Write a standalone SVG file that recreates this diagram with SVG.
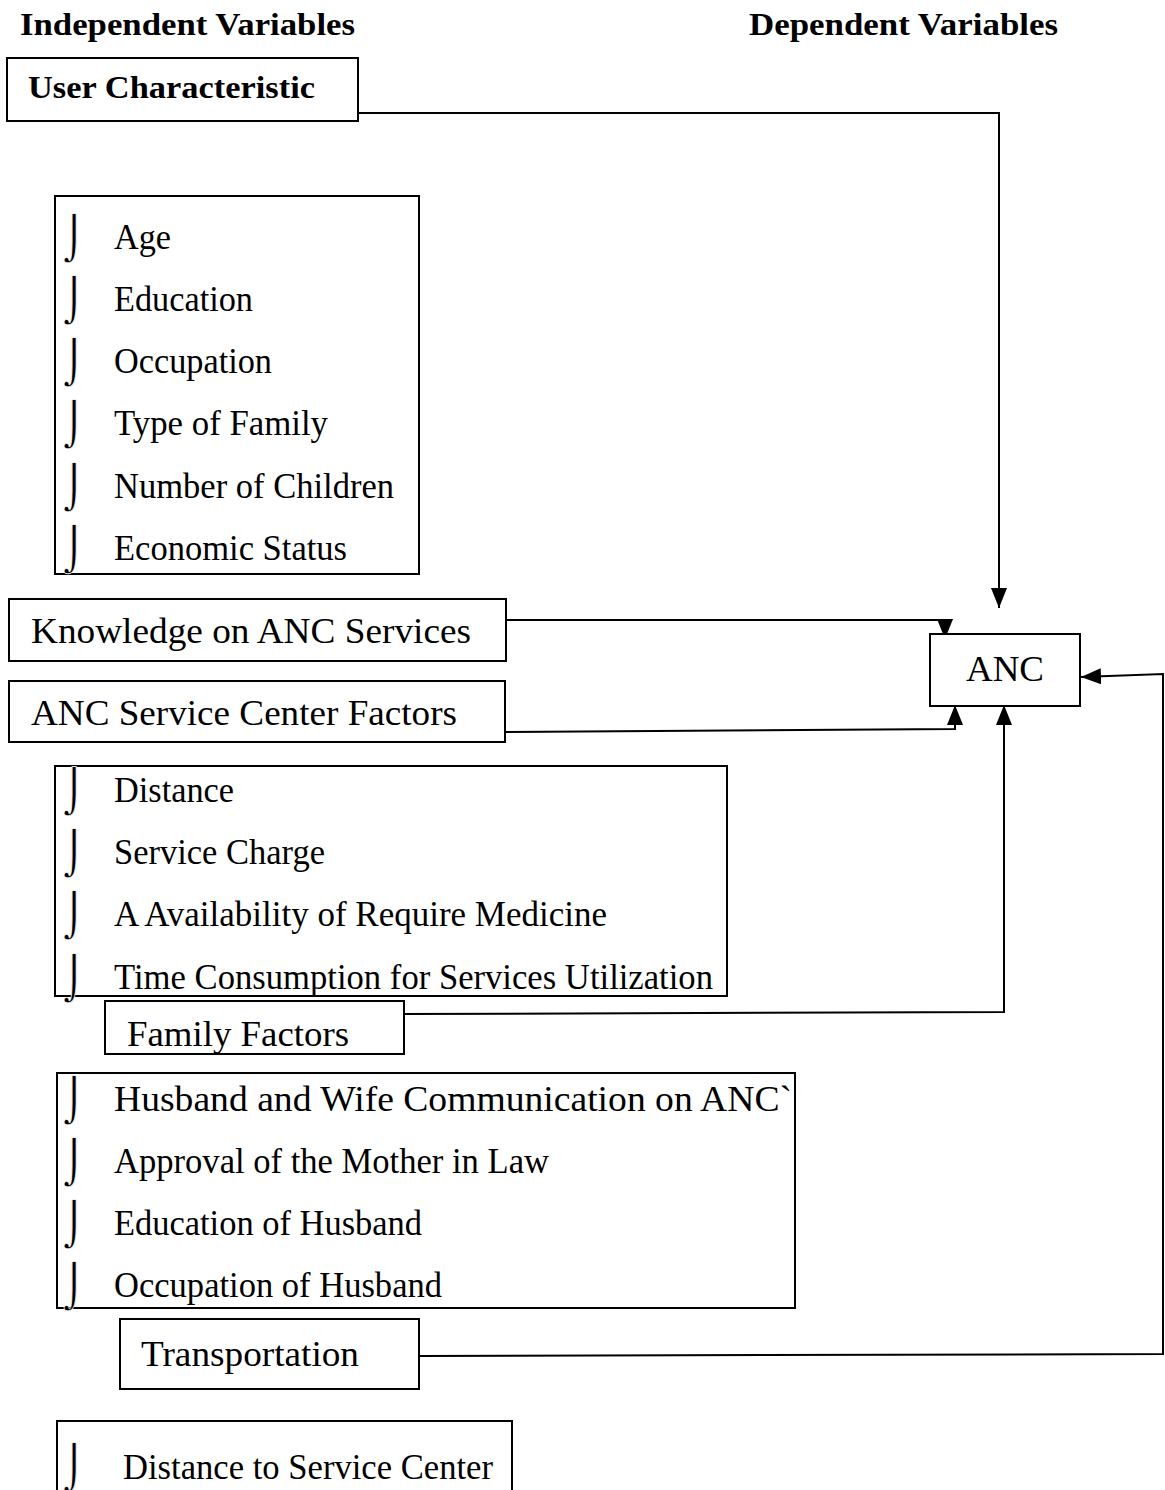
<svg xmlns="http://www.w3.org/2000/svg" width="1165" height="1490" viewBox="0 0 1165 1490">
<style>
.box{fill:#fff;stroke:#000;stroke-width:2}
.t{font-family:"Liberation Serif","Times New Roman",serif;fill:#000}
.b{font-weight:bold;font-size:32px}
.n{font-size:36px}
.bul{font-family:"DejaVu Serif",serif;font-size:42px;fill:#000;stroke:#fff;stroke-width:0.7}
.con{fill:none;stroke:#000;stroke-width:2}
</style>
<defs>
<marker id="arr" markerUnits="userSpaceOnUse" markerWidth="20" markerHeight="16" viewBox="0 0 20 16" refX="20" refY="8" orient="auto">
<path d="M0,0 L20,8 L0,16 Z" fill="#000"/>
</marker>
<clipPath id="famclip"><rect x="105" y="1001" width="300" height="52"/></clipPath>
</defs>
<rect width="1165" height="1490" fill="#fff"/>
<g id="headers">
<text class="t b" x="20" y="35" textLength="335" lengthAdjust="spacingAndGlyphs">Independent Variables</text>
<text class="t b" x="749" y="35" textLength="309" lengthAdjust="spacingAndGlyphs">Dependent Variables</text>
</g>
<g id="connectors">
<path class="con" d="M358,113 H999 V608" marker-end="url(#arr)"/>
<path class="con" d="M506,620 H945 V639" marker-end="url(#arr)"/>
<path class="con" d="M500,732 L955,729 V705" marker-end="url(#arr)"/>
<path class="con" d="M398,1014 L1004,1012 V705" marker-end="url(#arr)"/>
<path class="con" d="M419,1356 L1163,1354 V674 L1081,677" marker-end="url(#arr)"/>
</g>
<g id="user-characteristic">
<rect class="box" x="7" y="58" width="351" height="63"/>
<text class="t b" x="28" y="98" textLength="287" lengthAdjust="spacingAndGlyphs">User Characteristic</text>
</g>
<g id="user-list">
<rect class="box" x="55" y="196" width="364" height="378"/>
<text class="bul" x="63" y="253">⌡</text>
<text class="t n" x="114" y="249" textLength="57" lengthAdjust="spacingAndGlyphs">Age</text>
<text class="bul" x="63" y="315">⌡</text>
<text class="t n" x="114" y="311" textLength="139" lengthAdjust="spacingAndGlyphs">Education</text>
<text class="bul" x="63" y="377">⌡</text>
<text class="t n" x="114" y="373" textLength="158" lengthAdjust="spacingAndGlyphs">Occupation</text>
<text class="bul" x="63" y="439">⌡</text>
<text class="t n" x="114" y="435" textLength="214" lengthAdjust="spacingAndGlyphs">Type of Family</text>
<text class="bul" x="63" y="502">⌡</text>
<text class="t n" x="114" y="498" textLength="280" lengthAdjust="spacingAndGlyphs">Number of Children</text>
<text class="bul" x="63" y="564">⌡</text>
<text class="t n" x="114" y="560" textLength="233" lengthAdjust="spacingAndGlyphs">Economic Status</text>
</g>
<g id="knowledge">
<rect class="box" x="9" y="599" width="497" height="62"/>
<text class="t n" x="31" y="643" textLength="440" lengthAdjust="spacingAndGlyphs">Knowledge on ANC Services</text>
</g>
<g id="anc">
<rect class="box" x="930" y="634" width="150" height="72"/>
<text class="t n" x="966" y="681" textLength="78" lengthAdjust="spacingAndGlyphs">ANC</text>
</g>
<g id="service-center">
<rect class="box" x="9" y="681" width="496" height="61"/>
<text class="t n" x="31" y="725" textLength="426" lengthAdjust="spacingAndGlyphs">ANC Service Center Factors</text>
</g>
<g id="service-list">
<rect class="box" x="55" y="766" width="672" height="230"/>
<text class="bul" x="63" y="806">⌡</text>
<text class="t n" x="114" y="802" textLength="120" lengthAdjust="spacingAndGlyphs">Distance</text>
<text class="bul" x="63" y="868">⌡</text>
<text class="t n" x="114" y="864" textLength="211" lengthAdjust="spacingAndGlyphs">Service Charge</text>
<text class="bul" x="63" y="930">⌡</text>
<text class="t n" x="114" y="926" textLength="493" lengthAdjust="spacingAndGlyphs">A Availability of Require Medicine</text>
<text class="bul" x="63" y="993">⌡</text>
<text class="t n" x="114" y="989" textLength="599" lengthAdjust="spacingAndGlyphs">Time Consumption for Services Utilization</text>
</g>
<g id="family-factors">
<rect class="box" x="105" y="1001" width="299" height="53"/>
<text class="t n" x="127" y="1046" textLength="222" lengthAdjust="spacingAndGlyphs" clip-path="url(#famclip)">Family Factors</text>
</g>
<g id="family-list">
<rect class="box" x="57" y="1073" width="738" height="235"/>
<text class="bul" x="63" y="1115">⌡</text>
<text class="t n" x="114" y="1111" textLength="678" lengthAdjust="spacingAndGlyphs">Husband and Wife Communication on ANC`</text>
<text class="bul" x="63" y="1177">⌡</text>
<text class="t n" x="114" y="1173" textLength="435" lengthAdjust="spacingAndGlyphs">Approval of the Mother in Law</text>
<text class="bul" x="63" y="1239">⌡</text>
<text class="t n" x="114" y="1235" textLength="308" lengthAdjust="spacingAndGlyphs">Education of Husband</text>
<text class="bul" x="63" y="1301">⌡</text>
<text class="t n" x="114" y="1297" textLength="328" lengthAdjust="spacingAndGlyphs">Occupation of Husband</text>
</g>
<g id="transportation">
<rect class="box" x="120" y="1319" width="299" height="70"/>
<text class="t n" x="141" y="1366" textLength="218" lengthAdjust="spacingAndGlyphs">Transportation</text>
</g>
<g id="transport-list">
<rect class="box" x="57" y="1421" width="455" height="80"/>
<text class="bul" x="63" y="1482">⌡</text>
<text class="t n" x="123" y="1479" textLength="370" lengthAdjust="spacingAndGlyphs">Distance to Service Center</text>
</g>
</svg>
